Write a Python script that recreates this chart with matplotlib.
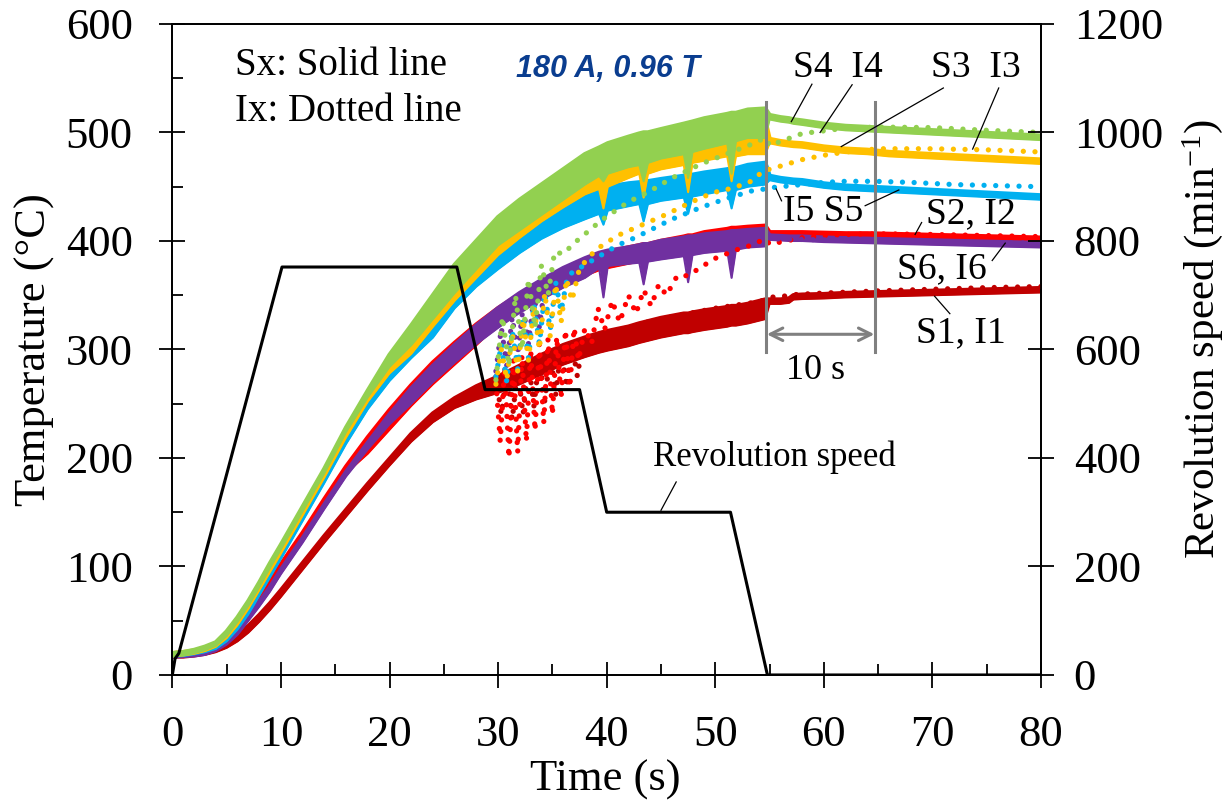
import matplotlib
matplotlib.use('Agg')
import matplotlib.pyplot as plt
import numpy as np

plt.rcParams['font.family'] = ['Liberation Serif', 'DejaVu Serif']
plt.rcParams['mathtext.fontset'] = 'custom'
plt.rcParams['mathtext.rm'] = 'Liberation Serif'
plt.rcParams['mathtext.it'] = 'Liberation Serif:italic'

# ---------------- data ----------------
# shared time grid (s) for solid lines
G = [0, 1, 2, 3, 4, 5, 6, 7, 8, 9, 10, 12, 14, 16, 18, 20, 22, 24, 26, 28, 30, 32, 34, 36, 38,
     39.3, 39.7, 40.1, 42, 43.0, 43.4, 43.8, 45, 47.1, 47.5, 47.9, 49, 51.1, 51.5, 51.9, 53, 54.6,
     55, 56, 56.8, 57.2, 58, 60, 62, 64, 66, 68, 70, 72, 74, 76, 78, 80]

S4_hi = [20, 21, 23, 26, 30, 40, 53, 68, 85, 103, 120, 155, 190, 228, 262, 295, 322, 350, 378, 400, 422, 438, 452, 466, 480,
         486, 488, 490, 496, 499, 500, 500, 503, 508, 509, 510, 513, 517, 518, 518, 521, 522,
         516, 514, 513, 512, 511, 508, 506, 505, 504, 503, 502, 501, 500, 499, 498, 497]
S4_lo = [17, 18, 20, 23, 27, 36, 49, 64, 81, 99, 116, 151, 186, 224, 256, 284, 304, 328, 352, 374, 396, 410, 424, 438, 452,
         460, 455, 462, 468, 470, 455, 472, 476, 480, 458, 482, 485, 490, 462, 492, 495, 495,
         512, 510, 509, 508, 507, 504, 502, 501, 500, 499, 498, 497, 496, 495, 494, 493]

S3_hi = [20, 21, 22.5, 25, 29, 38, 50, 65, 82, 99, 116, 151, 186, 223, 257, 289, 316, 343, 370, 392, 413, 430, 445, 458, 470,
         476, 478, 480, 486, 489, 490, 490, 493, 498, 499, 500, 503, 507, 508, 508, 510, 511,
         494, 492, 491, 490.5, 490, 487, 485, 484, 482, 481, 480, 479, 478, 477, 476, 475]
S3_lo = [17, 18, 19.5, 22, 26, 34, 46, 61, 78, 95, 112, 147, 182, 219, 252, 278, 296, 321, 345, 366, 387, 403, 418, 431, 443,
         448, 430, 450, 458, 462, 440, 462, 466, 470, 445, 472, 474, 478, 455, 478, 480, 480,
         490, 488, 487, 486.5, 486, 483, 481, 480, 478, 477, 476, 475, 474, 473, 472, 471]

S5_hi = [20, 20.5, 22, 24, 27, 35, 46, 60, 77, 94, 111, 146, 181, 217, 250, 281, 307, 332, 360, 381, 398, 413, 426, 437, 445,
         448, 449, 450, 453, 454, 455, 455, 457, 460, 461, 461, 463, 466, 467, 467, 470, 472,
         460, 458, 457, 456.5, 456, 453, 451, 450, 449, 448, 447, 446, 445, 444, 443, 442]
S5_lo = [17, 17.5, 19, 21, 24, 31, 42, 56, 73, 90, 107, 142, 177, 213, 245, 271, 292, 311, 338, 358, 374, 389, 402, 412, 420,
         425, 415, 428, 432, 434, 418, 434, 437, 440, 425, 441, 443, 447, 430, 447, 450, 452,
         456, 454, 453, 452.5, 452, 449, 447, 446, 445, 444, 443, 442, 441, 440, 439, 438]

S6_hi = [19, 19.5, 20, 21.5, 25, 32, 41, 54, 67, 81, 97, 126, 157, 187, 214, 240, 264, 285, 304, 322, 338, 352, 364, 375, 384,
         389, 390, 391, 394, 396, 397, 397, 400, 403, 404, 404, 406, 408, 409, 409, 410, 411,
         405, 404.5, 404, 404, 404, 403, 402.5, 402, 401.5, 401, 400.5, 400, 399.5, 399, 398.5, 398]
S6_lo = [16, 16.5, 17, 18.5, 22, 28, 37, 50, 63, 77, 93, 122, 153, 183, 208, 231, 250, 270, 288, 305, 320, 334, 346, 357, 366,
         375, 348, 377, 379, 380, 360, 381, 383, 386, 362, 387, 389, 391, 366, 392, 394, 395,
         401, 400.5, 400, 400, 400, 399, 398.5, 398, 397.5, 397, 396.5, 396, 395.5, 395, 394.5, 394]

S2_hi = [20, 20.5, 21.5, 23.5, 28, 35, 45, 58, 72, 86, 102, 131, 162, 192, 219, 244, 267, 288, 306, 323, 338, 351, 363, 374, 383,
         388, 389, 390, 394, 396, 397, 397, 400, 404, 405, 405, 408, 411, 412, 412, 413, 414,
         408, 408, 408, 408, 408, 407.5, 407, 407, 406.5, 406, 405.5, 405, 404.5, 404, 403.5, 403]
S2_lo = [17, 17.5, 18.5, 20.5, 24, 31, 41, 54, 68, 82, 98, 127, 158, 186, 204, 226, 248, 268, 286, 304, 323, 336, 348, 359, 368,
         373, 374, 375, 379, 381, 382, 382, 385, 389, 390, 390, 393, 396, 397, 397, 398, 399,
         404, 404, 404, 404, 404, 403.5, 403, 403, 402.5, 402, 401.5, 401, 400.5, 400, 399.5, 399]

S1_hi = [20, 20, 21, 22.5, 25, 30, 37, 45, 55, 66, 78, 103, 128, 152, 176, 199, 222, 241, 255, 266, 275, 285, 295, 304, 311,
         315, 316, 317, 321, 324, 325, 326, 329, 333, 333, 334, 336, 339, 340, 340, 342, 346,
         346, 346, 347, 350, 350.5, 351, 352, 352.5, 353, 353.5, 354, 354.5, 355, 355.5, 356, 356.5]
S1_lo = [16, 16, 17, 18.5, 21, 25, 31, 39, 49, 60, 72, 97, 122, 146, 170, 193, 215, 233, 246, 254, 260, 268, 277, 286, 293,
         297, 298, 299, 303, 306, 307, 308, 311, 315, 315, 316, 318, 321, 322, 322, 324, 328,
         342, 342, 343, 346, 346.5, 347, 348, 348.5, 349, 349.5, 350, 350.5, 351, 351.5, 352, 352.5]

# dotted lines (Ix)
I4_t = [29.8, 30.4, 31.0, 31.6, 32.2, 32.8, 33.4, 34.0, 34.6, 35.2, 36, 37, 39.5, 42, 44, 46, 48.7, 51, 53.3, 54.6,
        55, 58, 62, 65, 70, 75, 80]
I4_v = [272, 330, 285, 350, 300, 365, 320, 378, 350, 390, 388, 398, 419, 436, 446, 458, 471, 480, 489, 495,
        488, 499, 504, 505, 504.5, 502, 500]

I3_t = [29.8, 30.3, 30.8, 31.3, 31.8, 32.3, 32.8, 33.3, 33.8, 34.3, 34.8, 35.3, 35.8, 36.3, 36.8, 37.5, 39, 41, 42.6, 44,
        45.6, 47, 48.7, 50, 51.7, 53.3, 54.6, 55, 56, 58, 60, 62, 65, 70, 75, 80]
I3_v = [268, 300, 272, 315, 280, 328, 290, 340, 300, 352, 312, 360, 325, 365, 345, 375, 392, 405, 412, 418,
        425, 432, 440, 445, 449, 455, 466, 466, 469, 475, 479, 482, 485, 485, 484, 482]

I5_t = [29.8, 30.3, 30.8, 31.3, 31.8, 32.3, 32.8, 33.3, 33.8, 34.3, 34.8, 35.3, 35.8, 36.4, 37, 39, 41, 42.6, 44, 46,
        48.7, 51, 53.3, 54.6, 55, 57, 60, 62, 64.7, 68, 72, 76, 80]
I5_v = [275, 305, 270, 318, 282, 330, 292, 342, 305, 352, 318, 362, 335, 368, 372, 384, 396, 403, 410, 420,
        431, 439, 446, 448, 449, 451, 454, 455, 455, 454, 452, 451, 450]

I6_t = [29.8, 30.3, 30.8, 31.3, 31.8, 32.3, 32.8, 33.3, 33.8, 34.3, 35, 36, 38, 40, 44, 48, 52, 54.6, 55, 60, 65, 70, 75, 80]
I6_v = [280, 320, 285, 330, 295, 340, 305, 350, 320, 360, 365, 372, 382, 388, 395, 402, 407, 409, 402, 401, 400, 399, 398.5, 398]

I2_t = [29.8, 30.2, 30.6, 31.0, 31.4, 31.8, 32.2, 32.6, 33.0, 33.4, 33.8, 34.2, 34.6, 35.0, 35.4, 35.8, 36.2, 36.6, 37.0,
        37.4, 38.0, 38.6, 39.2, 39.8, 40.5, 41.2, 42, 42.7, 43.4, 44.1, 44.8, 45.5, 46.5, 47.5, 48.7, 50, 51, 52, 53.3,
        54.6, 55, 56, 58, 60, 62, 64, 66, 70, 75, 80]
I2_v = [270, 215, 285, 200, 290, 205, 295, 215, 300, 225, 305, 232, 310, 240, 312, 255, 318, 265, 320,
        290, 320, 305, 338, 318, 345, 325, 350, 333, 355, 340, 360, 350, 368, 368, 376, 384, 388, 392, 396,
        402, 397, 399, 403, 405, 406, 406.5, 406.5, 406, 405, 404]

I1_t = [29.8, 30.3, 30.8, 31.3, 31.8, 32.3, 32.8, 33.3, 33.8, 34.3, 34.8, 35.3, 35.8, 36.3, 36.8, 37.3, 37.8, 38.5,
        40, 42, 44, 46, 48, 50, 52, 54, 54.6, 55, 56, 56.8, 57.2, 58, 60, 65, 70, 75, 80]
I1_v = [275, 240, 280, 235, 283, 240, 288, 248, 293, 252, 297, 258, 302, 265, 305, 275, 308, 312,
        316, 320, 326, 330, 334, 338, 341, 344, 346, 348, 349, 349.5, 350.5, 351, 352, 354, 355.5, 357, 358]

# revolution speed (min^-1)
rev_t = [0, 0.25, 0.6, 10.1, 26.2, 28.8, 37.5, 40.0, 51.4, 54.8, 80]
rev_v = [0, 30, 40, 752, 752, 526, 526, 300, 300, 0, 0]

x_ticks = [0, 10, 20, 30, 40, 50, 60, 70, 80]
y_ticks = [0, 100, 200, 300, 400, 500, 600]
y2_ticks = [0, 200, 400, 600, 800, 1000, 1200]

C_GREEN = '#92d050'
C_YELLOW = '#ffc000'
C_BLUE = '#00b0f0'
C_RED = '#ff0000'
C_PURPLE = '#7030a0'
C_DARKRED = '#c00000'

# ---------------- figure ----------------
fig = plt.figure(figsize=(12.3, 8.1), dpi=100)
ax = fig.add_axes([0.1401, 0.1667, 0.7063, 0.8037])

solids = [(S1_lo, S1_hi, C_DARKRED), (S2_lo, S2_hi, C_RED), (S6_lo, S6_hi, C_PURPLE),
          (S5_lo, S5_hi, C_BLUE), (S3_lo, S3_hi, C_YELLOW), (S4_lo, S4_hi, C_GREEN)]
for lo, hi, c in solids:
    ax.fill_between(G, lo, hi, color=c, lw=0, zorder=2)
    ax.plot(G, hi, color=c, lw=3.2, zorder=2, solid_joinstyle='round')
    ax.plot(G, lo, color=c, lw=1.5, zorder=2)

dots = [(I1_t, I1_v, C_DARKRED), (I2_t, I2_v, C_RED), (I6_t, I6_v, C_PURPLE),
        (I5_t, I5_v, C_BLUE), (I3_t, I3_v, C_YELLOW), (I4_t, I4_v, C_GREEN)]
for t, v, c in dots:
    ax.plot(t, v, color=c, lw=3.8, ls=(0, (0.01, 2.2)), dash_capstyle='round', zorder=3)

ax.set_xlim(0, 80)
ax.set_ylim(0, 600)
ax.set_xticks(x_ticks)
ax.set_yticks(y_ticks)
ax.set_xticks(np.arange(5, 80, 10), minor=True)
ax.set_yticks(np.arange(50, 600, 100), minor=True)
ax.tick_params(which='major', direction='inout', length=19, width=1.3, labelsize=32, top=False, right=False)
ax.tick_params(axis='x', which='major', pad=19)
ax.tick_params(axis='y', which='major', pad=19)
ax.tick_params(which='minor', direction='in', length=8, width=1.3, top=False, right=False)
for s in ax.spines.values():
    s.set_linewidth(1.3)

ax.set_xlabel('Time (s)', fontsize=32)
ax.set_ylabel('Temperature (°C)', fontsize=32)
ax.xaxis.set_label_coords(0.498, -0.161)
ax.xaxis.label.set_va('center')
ax.yaxis.set_label_coords(-0.158, 0.5)
ax.yaxis.label.set_va('center')

# twin axis for revolution speed
ax2 = ax.twinx()
ax2.plot(rev_t, rev_v, color='black', lw=2.2, zorder=5)
ax2.set_ylim(0, 1200)
ax2.set_yticks(y2_ticks)
ax2.tick_params(axis='y', which='major', direction='inout', length=19, width=1.3, labelsize=32, pad=14)
for s in ax2.spines.values():
    s.set_linewidth(1.3)
ax2.set_ylabel('Revolution speed (min$^{-1}$)', fontsize=31)
ax2.yaxis.set_label_coords(1.186, 0.515)
ax2.yaxis.label.set_va('center')

# gray 10 s markers
GRAY = '#808080'
ax.plot([54.7, 54.7], [297.5, 528], color=GRAY, lw=2.2, zorder=6)
ax.plot([64.7, 64.7], [297.5, 528], color=GRAY, lw=2.2, zorder=6)
ax.annotate('', xy=(54.75, 314), xytext=(64.65, 314),
            arrowprops=dict(arrowstyle='<->,head_length=0.9,head_width=0.45', color=GRAY, lw=2.2,
                            shrinkA=0, shrinkB=0), zorder=6)
ax.text(59.2, 281, '10 s', fontsize=26, ha='center', va='center', zorder=7)

# labels with leader lines
FS = 27
ax.text(61.3, 560, 'S4  I4', fontsize=FS, ha='center', va='center', zorder=7)
ax.text(74.0, 560, 'S3  I3', fontsize=FS, ha='center', va='center', zorder=7)
ax.text(59.9, 427, 'I5 S5', fontsize=FS, ha='center', va='center', zorder=7)
ax.text(73.5, 425, 'S2, I2', fontsize=FS, ha='center', va='center', zorder=7)
ax.text(70.9, 374.5, 'S6, I6', fontsize=FS, ha='center', va='center', zorder=7)
ax.text(72.6, 315, 'S1, I1', fontsize=FS, ha='center', va='center', zorder=7)
leaders = [((58.9, 544.5), (57.0, 510)), ((62.6, 544), (59.65, 500)),
           ((71.0, 541), (61.6, 487)), ((76.1, 541), (73.7, 484.7)),
           ((56.1, 437), (55.6, 448)), ((63.8, 432.5), (66.9, 447)),
           ((69.0, 417), (68.4, 406)), ((75.5, 382), (76.7, 398)),
           ((71.6, 333), (70.2, 349)), ((46.4, 177.9), (45.0, 151.8))]
for (a, b) in leaders:
    ax.plot([a[0], b[0]], [a[1], b[1]], color='black', lw=0.9, zorder=7)
ax.text(44.3, 200.6, 'Revolution speed', fontsize=25, ha='left', va='center', zorder=7)

ax.text(0.0722, 0.936, 'Sx: Solid line', transform=ax.transAxes, fontsize=28, ha='left', va='center')
ax.text(0.0722, 0.866, 'Ix: Dotted line', transform=ax.transAxes, fontsize=28, ha='left', va='center')
ax.text(0.502, 0.931, '180 A, 0.96 T', transform=ax.transAxes, fontsize=22, ha='center', va='center',
        family='Liberation Sans', weight='bold', style='italic', color='#0a3d8f')

fig.savefig('out.png', dpi=100)
